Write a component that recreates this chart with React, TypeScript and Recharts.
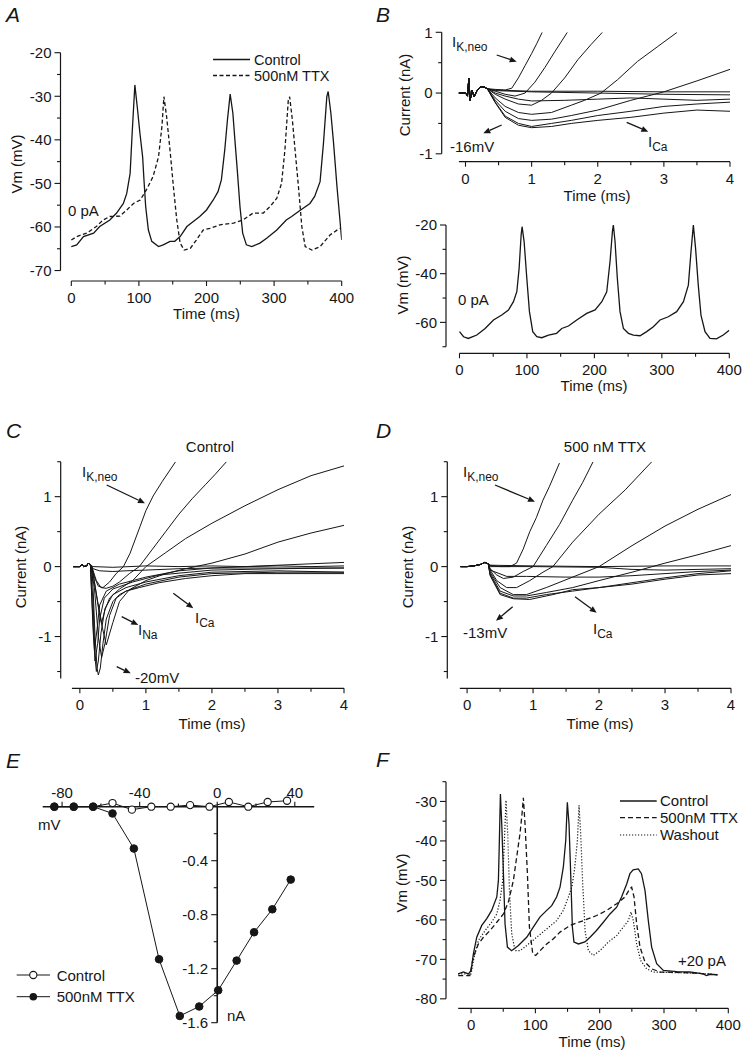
import React from 'react';
import { LineChart, Line, XAxis, YAxis, ReferenceLine } from 'recharts';

const INK = '#161616';
const FONT = '"Liberation Sans", Arial, Helvetica, sans-serif';

type P = [number, number];

// ---------- A: spontaneous firing, control vs TTX ----------
const A_CONTROL: P[] = [
  [0, -64.5], [8, -64.1], [18, -62.2], [33, -61.4], [42, -59.9], [57, -58.4], [67, -56.8], [77, -54.6],
  [82, -52.3], [87, -47.7], [90, -38.5], [94, -27.4], [98, -33.1], [101.5, -38.5], [105.5, -43.9],
  [107.5, -49.2], [110, -55.3], [114, -60.7], [119, -63.3], [129, -64.5], [136, -64.1], [146, -63.3],
  [153, -63.3], [161, -62.2], [171, -59.9], [180, -58.8], [190, -57.6], [200, -56.1], [210, -53.8],
  [217, -51.9], [222, -49.2], [227, -42.3], [231, -35.4], [235, -29.5], [239, -33.9], [242, -40],
  [245.5, -46.9], [249.5, -55.3], [253.5, -61.4], [259, -64.1], [267, -64.5], [279, -63.7], [289, -62.6],
  [304, -60.7], [318, -58.4], [326, -57.6], [333, -56.8], [343, -55.7], [353, -54.6], [360, -53],
  [368, -49.6], [373, -40.8], [378, -30.1], [380, -28.9], [384, -33.9], [388, -40.8], [393, -50.7], [400, -63],
];
const A_TTX: P[] = [
  [0, -63], [8, -62.2], [23, -61.4], [37, -59.9], [47, -58.4], [57, -57.6], [72, -57.5], [82, -56.1],
  [92, -54.6], [102, -53.8], [111, -51.5], [121, -48.4], [129, -43.9], [134, -37], [137, -30.1],
  [141, -34.7], [146, -42.3], [151, -50.7], [156, -58.4], [161, -63.7], [167, -65.3], [176, -64.9],
  [185, -63], [195, -60.7], [205, -60.3], [220, -59.5], [240, -59.1], [254, -58.4], [269, -56.8],
  [284, -56.8], [294, -55.3], [304, -53.4], [311, -50], [316, -42.3], [321, -30.9], [323, -30.1],
  [327, -35.4], [331, -42.3], [336, -50.7], [341, -59.9], [346, -64.5], [356, -65.3], [368, -64.5],
  [383, -61.8], [397, -60.3],
];
const A_X_TICKS = [0, 50, 100, 150, 200, 250, 300, 350, 400];
const A_X_MAJOR = [0, 100, 200, 300, 400];
const A_Y_TICKS = [-70, -65, -60, -55, -50, -45, -40, -35, -30, -25, -20];
const A_Y_MAJOR = [-70, -60, -50, -40, -30, -20];

// ---------- B: voltage-clamp ramp currents + spontaneous firing ----------
const B_ONSET: P[] = [
  [-0.1, 0], [0, 0], [0.03, -0.05], [0.05, 0.24], [0.07, -0.12], [0.1, 0.04], [0.13, -0.06],
  [0.17, 0.03], [0.22, 0.1], [0.28, 0.1], [0.33, 0.07],
];
const B_TRACES: P[][] = [
  [[0.45, 0.06], [0.6, 0.05], [0.7, 0.08], [0.8, 0.25], [0.9, 0.45], [1.0, 0.65], [1.08, 0.82], [1.16, 1.0]],
  [[0.45, 0.03], [0.6, -0.02], [0.75, -0.05], [0.9, 0.0], [1.05, 0.18], [1.2, 0.42], [1.35, 0.68], [1.54, 1.0]],
  [[0.45, -0.02], [0.6, -0.1], [0.8, -0.18], [1.0, -0.2], [1.15, -0.12], [1.3, 0.0], [1.5, 0.25], [1.7, 0.55], [1.9, 0.8], [2.07, 1.0]],
  [[0.45, -0.08], [0.6, -0.22], [0.8, -0.32], [1.0, -0.35], [1.3, -0.32], [1.6, -0.2], [1.8, -0.12], [2.05, 0.0], [2.3, 0.22], [2.6, 0.52], [2.9, 0.76], [3.2, 1.0]],
  [[0.45, -0.12], [0.6, -0.3], [0.8, -0.42], [1.0, -0.45], [1.3, -0.43], [1.6, -0.37], [2.0, -0.28], [2.5, -0.12], [3.0, 0.02], [3.5, 0.2], [4.0, 0.39]],
  [[0.45, -0.15], [0.6, -0.38], [0.8, -0.5], [1.0, -0.55], [1.3, -0.5], [1.6, -0.45], [2.0, -0.37], [2.5, -0.3], [3.0, -0.22], [3.5, -0.18], [4.0, -0.15]],
  [[0.45, -0.16], [0.6, -0.4], [0.8, -0.53], [1.0, -0.57], [1.3, -0.55], [1.6, -0.5], [2.0, -0.45], [2.5, -0.4], [3.0, -0.33], [3.5, -0.28], [4.0, -0.3]],
  [[0.45, 0.0], [0.6, -0.05], [0.8, -0.1], [1.0, -0.13], [1.5, -0.12], [2.0, -0.1], [2.5, -0.08], [3.0, -0.1], [3.5, -0.12], [4.0, -0.1]],
  [[0.45, 0.05], [1.0, 0.03], [2.0, 0.03], [3.0, 0.02], [4.0, 0.02]],
  [[0.45, 0.04], [1.0, 0.02], [2.0, 0.0], [3.0, -0.02], [4.0, -0.03]],
];
const B_FIRING: P[] = [
  [0, -63.8], [6, -65.9], [13, -66.6], [25.7, -65.2], [38, -62.5], [50.4, -59], [62.7, -57], [72.6, -54.9],
  [80, -51.5], [85, -47.4], [88.4, -37.8], [91.4, -24.1], [92.8, -20.7], [95.8, -26.8], [99.8, -41.9],
  [103.7, -55.6], [108.6, -63.8], [114.6, -65.9], [122, -66.3], [132, -65.2], [144, -64.5], [151.6, -62.5],
  [161.5, -61.5], [173.8, -59], [188.6, -56.3], [201, -54.9], [211, -51.5], [218.3, -47.4], [223.2, -35],
  [226.7, -22.7], [228.1, -20], [230.6, -26.8], [234, -41.9], [238, -55.6], [243, -62.5], [250.4, -64.5],
  [257.8, -65.2], [267.7, -65.5], [277.5, -63.8], [287.4, -61.8], [297.3, -59], [309.6, -57.7], [322, -55.6],
  [332, -51.5], [339.3, -44.7], [343.2, -31], [346.7, -20], [350, -29.6], [354, -44.7], [358, -57],
  [364, -63.8], [371.4, -66.6], [381, -66.8], [391, -65.2], [400, -63.2],
];
const MS4_TICKS = [0, 0.5, 1, 1.5, 2, 2.5, 3, 3.5, 4];
const MS4_MAJOR = [0, 1, 2, 3, 4];
const B_Y_TICKS = [-1, -0.5, 0, 0.5, 1];
const B_Y_MAJOR = [-1, 0, 1];
const B2_Y_TICKS = [-70, -60, -50, -40, -30, -20];
const B2_Y_MAJOR = [-60, -40, -20];

// ---------- C: control step currents ----------
const C_ONSET: P[] = [[-0.1, 0], [0, 0], [0.03, 0.03], [0.06, 0], [0.1, 0.01], [0.13, 0.05], [0.16, 0.02]];
const C_TRACES: P[][] = [
  [[0.2, 0.0], [0.5, -0.01], [1, 0.01], [1.5, 0.0], [2, 0.01], [2.5, 0.0], [3, 0.01], [3.5, 0.0], [4, 0.01]],
  [[0.2, -0.03], [0.3, -0.06], [0.5, -0.07], [0.7, -0.06], [1, -0.05], [1.5, -0.03], [2, -0.02], [3, -0.02], [4, -0.02]],
  [[0.18, 0], [0.22, -0.15], [0.28, -0.28], [0.35, -0.3], [0.45, -0.22], [0.55, -0.1], [0.66, 0.0], [0.76, 0.19], [0.91, 0.57], [1.0, 0.8], [1.11, 1.01], [1.25, 1.22], [1.45, 1.5]],
  [[0.18, 0], [0.25, -0.2], [0.32, -0.3], [0.4, -0.31], [0.5, -0.28], [0.6, -0.22], [0.75, -0.1], [0.9, 0.0], [1.1, 0.25], [1.3, 0.5], [1.5, 0.75], [1.7, 0.97], [1.9, 1.17], [2.05, 1.32], [2.22, 1.5]],
  [[0.2, -0.1], [0.27, -0.5], [0.33, -0.8], [0.38, -0.62], [0.45, -0.45], [0.6, -0.32], [0.8, -0.2], [1.0, 0.0], [1.3, 0.2], [1.6, 0.4], [2.0, 0.62], [2.5, 0.87], [3.0, 1.1], [3.5, 1.3], [4.0, 1.44]],
  [[0.2, -0.1], [0.3, -0.7], [0.4, -1.12], [0.5, -0.8], [0.6, -0.5], [0.75, -0.33], [1.0, -0.2], [1.3, -0.1], [1.6, -0.03], [2.0, 0.05], [2.5, 0.18], [3.0, 0.35], [3.5, 0.48], [4.0, 0.59]],
  [[0.18, 0], [0.2, -0.3], [0.23, -1.0], [0.26, -1.45], [0.28, -1.55], [0.31, -1.45], [0.35, -1.1], [0.4, -0.75], [0.5, -0.5], [0.6, -0.4], [0.7, -0.35], [0.9, -0.3], [1.2, -0.23], [1.6, -0.17], [2.0, -0.13], [2.5, -0.1], [3, -0.1], [3.5, -0.1], [4, -0.1]],
  [[0.2, -0.5], [0.23, -1.3], [0.25, -1.5], [0.28, -1.35], [0.32, -0.95], [0.38, -0.6], [0.5, -0.4], [0.7, -0.3], [1.0, -0.22], [1.5, -0.13], [2, -0.08], [3, -0.06], [4, -0.08]],
  [[0.19, -0.6], [0.23, -1.35], [0.27, -1.1], [0.3, -0.75], [0.37, -0.45], [0.5, -0.32], [0.8, -0.22], [1.2, -0.12], [2, -0.05], [3, -0.03], [4, -0.02]],
  [[0.2, -0.9], [0.22, -1.2], [0.26, -0.9], [0.3, -0.55], [0.4, -0.35], [0.6, -0.25], [1.0, -0.15], [1.5, -0.06], [2.0, -0.02], [2.5, 0.0], [3, 0.02], [3.5, 0.04], [4, 0.06]],
  [[0.22, -0.3], [0.28, -1.0], [0.33, -1.3], [0.38, -1.1], [0.45, -0.7], [0.55, -0.45], [0.7, -0.35], [1.0, -0.25], [1.5, -0.15], [2, -0.1], [3, -0.08], [4, -0.08]],
];
const CD_Y_TICKS = [-1.5, -1, -0.5, 0, 0.5, 1, 1.5];
const CD_Y_MAJOR = [-1, 0, 1];

// ---------- D: step currents in 500 nM TTX ----------
const D_ONSET: P[] = [[-0.1, 0], [0, 0], [0.1, 0.01], [0.2, 0.03], [0.27, 0.06], [0.32, 0.04]];
const D_TRACES: P[][] = [
  [[0.35, 0.02], [0.5, 0.0], [0.65, 0.0], [0.75, 0.05], [0.85, 0.25], [0.95, 0.5], [1.05, 0.7], [1.15, 0.95], [1.25, 1.15], [1.4, 1.48]],
  [[0.35, -0.03], [0.45, -0.12], [0.55, -0.17], [0.7, -0.15], [0.85, -0.07], [1.0, 0.0], [1.2, 0.3], [1.4, 0.6], [1.6, 0.95], [1.75, 1.2], [1.91, 1.5]],
  [[0.35, -0.05], [0.45, -0.2], [0.6, -0.3], [0.75, -0.3], [0.95, -0.2], [1.15, -0.08], [1.3, 0.0], [1.6, 0.35], [2.0, 0.75], [2.4, 1.1], [2.8, 1.5]],
  [[0.35, -0.08], [0.5, -0.3], [0.7, -0.4], [0.9, -0.4], [1.2, -0.3], [1.6, -0.15], [2.0, 0.0], [2.5, 0.3], [3.0, 0.58], [3.5, 0.82], [4.0, 1.03]],
  [[0.35, -0.1], [0.5, -0.35], [0.7, -0.42], [0.9, -0.42], [1.2, -0.37], [1.6, -0.3], [2.0, -0.2], [2.5, -0.08], [3.0, 0.05], [3.5, 0.17], [4.0, 0.3]],
  [[0.35, -0.12], [0.5, -0.38], [0.7, -0.45], [0.9, -0.45], [1.2, -0.4], [1.6, -0.35], [2.0, -0.3], [2.5, -0.23], [3.0, -0.16], [3.5, -0.1], [4.0, -0.06]],
  [[0.35, -0.13], [0.5, -0.4], [0.7, -0.46], [0.95, -0.47], [1.3, -0.4], [1.6, -0.33], [2.0, -0.3], [2.5, -0.25], [3.0, -0.18], [3.5, -0.12], [4.0, -0.1]],
  [[0.35, -0.05], [0.6, -0.14], [0.9, -0.14], [1.5, -0.15], [2.0, -0.15], [2.5, -0.13], [3.0, -0.1], [3.5, -0.07], [4.0, -0.05]],
  [[0.35, 0.02], [1, 0.01], [2, 0.0], [3, 0.01], [4, 0.01]],
  [[0.35, 0.0], [1, 0.0], [2, -0.01], [2.5, -0.04], [3, -0.05], [4, -0.03]],
];

// ---------- E: I-V relation ----------
const E_CONTROL: P[] = [
  [-84, 0], [-74, 0], [-64, 0], [-54, 0.027], [-44, -0.022], [-34, 0], [-24, 0], [-14, 0.012],
  [-4, 0], [6, 0.035], [16, 0], [26, 0.035], [36, 0.044],
];
const E_TTX: P[] = [
  [-84, 0], [-74, 0], [-64, 0], [-54, -0.05], [-43, -0.31], [-30, -1.13], [-19.3, -1.55], [-9.3, -1.48],
  [0.5, -1.36], [10, -1.14], [19, -0.93], [28.4, -0.76], [37.9, -0.54],
];
const E_X_TICKS = [-80, -60, -40, -20, 0, 20, 40];
const E_X_MAJOR = [-80, -40, 0, 40];
const E_Y_TICKS = [-0.2, -0.4, -0.6, -0.8, -1.0, -1.2, -1.4, -1.6];
const E_Y_MAJOR = [-0.4, -0.8, -1.2, -1.6];

// ---------- F: evoked firing, +20 pA ----------
const F_CONTROL: P[] = [
  [-20, -73.7], [-12, -73.2], [-4, -73.7], [0, -72.8], [3.6, -68.6], [8.8, -64.4], [16.6, -61.4], [24.4, -59.7],
  [32, -57.6], [40, -54.2], [42.5, -50], [44, -39.9], [45.6, -28.1], [47.7, -35.7], [50.3, -48.3], [52.8, -61],
  [56.5, -66.9], [63, -67.8], [73.6, -66.5], [86.5, -64.4], [97, -61.8], [107, -59.3], [117.6, -57.6],
  [125.4, -56.4], [133, -54.2], [138.3, -51.7], [143.5, -46.6], [147.2, -39.9], [149.7, -30.2], [152.3, -35.7],
  [154.9, -48.3], [157.5, -61.8], [160, -65.6], [167, -66.1], [177, -65.6], [185, -64.4], [195, -62.7],
  [205.7, -60.6], [216, -58.5], [226.4, -56.8], [234, -54.2], [242, -50.9], [247, -48.3], [252, -47.3],
  [260, -47.1], [265, -48.3], [270.5, -52.6], [275.6, -60.2], [280.8, -66.9], [288.6, -71.1], [299, -72.8],
  [320, -73.1], [340, -73.2], [361, -73.7], [366, -74.1], [372, -73.8], [383, -73.9],
];
const F_TTX: P[] = [
  [-20, -74.1], [-2, -74.1], [3.6, -69.4], [11.4, -66.1], [19.2, -64.4], [29.5, -62.7], [40, -60.6],
  [50.3, -58.5], [58, -55.5], [65.8, -50], [71, -44], [76.2, -38], [79.3, -33], [81.3, -29.1], [83.9, -35.7],
  [87.6, -48.3], [90.7, -61.8], [95.9, -68.6], [100.5, -69], [107.3, -67.8], [117.6, -66.1], [128, -64.8],
  [138.3, -63.1], [154, -61.4], [174.6, -60.2], [195.3, -58.9], [211, -57.6], [226.4, -55.9], [239.4, -54.2],
  [247, -52.1], [249.7, -51.7], [253.4, -54.2], [257.5, -61], [262.7, -66.9], [270.5, -70.7], [280.8, -72.4],
  [293.8, -73.2], [320, -73.3], [350, -73.5], [383, -73.9],
];
const F_WASH: P[] = [
  [-20, -73.7], [0, -73.7], [4.7, -69.4], [11.4, -65.2], [21.8, -62.7], [32, -60.6], [40, -58.5], [45, -55.1],
  [49.2, -50], [51.8, -39.9], [54.4, -29.7], [57, -38.2], [59.6, -52.5], [63.2, -63.5], [68.4, -67.8],
  [76.2, -67.8], [86.5, -66.5], [102, -64.4], [117.6, -62.3], [133, -60.2], [143.5, -57.6], [151.3, -54.2],
  [157, -51.5], [161, -47], [165.3, -40], [167.9, -31], [170.5, -38.2], [173.6, -50.8], [177.2, -62.7],
  [182.4, -67.8], [190, -69], [200.5, -67.8], [213.5, -65.6], [226.4, -64], [236.8, -61.8], [244.6, -60.2],
  [248.7, -58], [252.3, -60.2], [257.5, -66.1], [263.7, -70.3], [273, -72.4], [283.4, -73.2], [300, -73.3],
  [330, -73.4], [360, -73.6], [383, -73.9],
];
const F_X_TICKS = [0, 50, 100, 150, 200, 250, 300, 350, 400];
const F_X_MAJOR = [0, 100, 200, 300, 400];
const F_Y_TICKS = [-80, -75, -70, -65, -60, -55, -50, -45, -40, -35, -30, -25];
const F_Y_MAJOR = [-80, -70, -60, -50, -40, -30];

const toPts = (d: P[]) => d.map(([t, v]) => ({ t, v }));

// ticks drawn by hand so minor ticks carry no label
const leftTick = (majors: number[]) => (p: any) => {
  const v = p.payload.value;
  const major = majors.indexOf(v) >= 0;
  return (
    <g>
      <line x1={p.x - (major ? 6 : 3.5)} x2={p.x} y1={p.y} y2={p.y} stroke={INK} strokeWidth={1.1} />
      {major && (
        <text x={p.x - 9} y={p.y + 5.3} textAnchor="end" fontSize={15} fill={INK}>{String(v)}</text>
      )}
    </g>
  );
};
const bottomTick = (majors: number[]) => (p: any) => {
  const v = p.payload.value;
  const major = majors.indexOf(v) >= 0;
  return (
    <g>
      <line x1={p.x} x2={p.x} y1={p.y} y2={p.y + (major ? 5 : 3.5)} stroke={INK} strokeWidth={1.1} />
      {major && (
        <text x={p.x} y={p.y + 22} textAnchor="middle" fontSize={15} fill={INK}>{String(v)}</text>
      )}
    </g>
  );
};

type Series = { data: P[]; dash?: string; width?: number };
type PanelProps = {
  box: [number, number, number, number];
  plot: [number, number, number, number];
  xDomain: [number, number];
  yDomain: [number, number];
  xTicks: number[];
  xMajor: number[];
  yTicks: number[];
  yMajor: number[];
  xLine: [number, number];
  yLine: [number, number];
  series: Series[];
};

const YW = 50;
const XH = 40;

function TracePanel(p: PanelProps) {
  const [left, top, w, h] = p.box;
  const [x0, y0, x1, y1] = p.plot;
  const margin = { left: x0 - left - YW, top: y0 - top, right: left + w - x1, bottom: top + h - y1 - XH };
  return (
    <div style={{ position: 'absolute', left, top }}>
      <LineChart width={w} height={h} margin={margin}>
        <XAxis
          type="number" dataKey="t" domain={p.xDomain} allowDataOverflow ticks={p.xTicks} interval={0}
          axisLine={false} tickLine={false} tickSize={0} tickMargin={0} height={XH} tick={bottomTick(p.xMajor)}
        />
        <YAxis
          type="number" domain={p.yDomain} allowDataOverflow ticks={p.yTicks} interval={0}
          axisLine={false} tickLine={false} tickSize={0} tickMargin={0} width={YW} tick={leftTick(p.yMajor)}
        />
        <ReferenceLine
          segment={[{ x: p.xLine[0], y: p.yDomain[0] }, { x: p.xLine[1], y: p.yDomain[0] }]}
          stroke={INK} strokeWidth={1.2} ifOverflow="visible"
        />
        <ReferenceLine
          segment={[{ x: p.xDomain[0], y: p.yLine[0] }, { x: p.xDomain[0], y: p.yLine[1] }]}
          stroke={INK} strokeWidth={1.2} ifOverflow="visible"
        />
        {p.series.map((s, i) => (
          <Line
            key={i} data={toPts(s.data)} dataKey="v" type="linear" stroke={INK}
            strokeWidth={s.width ?? 1} strokeDasharray={s.dash} dot={false} activeDot={false}
            isAnimationActive={false}
          />
        ))}
      </LineChart>
    </div>
  );
}

function IVPanel() {
  const [left, top, w, h] = [0, 770, 370, 270];
  const [x0, y0, x1, y1] = [42.7, 793.2, 314.2, 1022.7];
  const margin = { left: x0 - left, top: y0 - top, right: left + w - x1, bottom: top + h - y1 };
  return (
    <div style={{ position: 'absolute', left, top }}>
      <LineChart width={w} height={h} margin={margin}>
        <XAxis hide type="number" dataKey="t" domain={[-90, 50]} allowDataOverflow />
        <YAxis hide type="number" domain={[-1.6, 0.1]} allowDataOverflow />
        <ReferenceLine y={0} stroke={INK} strokeWidth={1.6} ifOverflow="visible" />
        <ReferenceLine segment={[{ x: 0, y: 0 }, { x: 0, y: -1.6 }]} stroke={INK} strokeWidth={1.6} ifOverflow="visible" />
        {E_X_TICKS.map((v) => {
          const major = E_X_MAJOR.indexOf(v) >= 0;
          return (
            <ReferenceLine
              key={'x' + v}
              segment={[{ x: v, y: 0 }, { x: v, y: major ? 0.037 : 0.024 }]}
              stroke={INK} strokeWidth={1.1} ifOverflow="visible"
              label={major ? { value: String(v), position: 'top', offset: 4, fontSize: 15, fill: INK } : undefined}
            />
          );
        })}
        {E_Y_TICKS.map((v) => {
          const major = E_Y_MAJOR.indexOf(v) >= 0;
          return (
            <ReferenceLine
              key={'y' + v}
              segment={[{ x: major ? -3.1 : -1.8, y: v }, { x: 0, y: v }]}
              stroke={INK} strokeWidth={1.1} ifOverflow="visible"
              label={major ? { value: v.toFixed(1), position: 'left', offset: 3, fontSize: 15, fill: INK } : undefined}
            />
          );
        })}
        <Line
          data={toPts(E_CONTROL)} dataKey="v" type="linear" stroke={INK} strokeWidth={1}
          dot={{ r: 3.6, fill: '#fff', stroke: INK, strokeWidth: 1.1 }} activeDot={false} isAnimationActive={false}
        />
        <Line
          data={toPts(E_TTX)} dataKey="v" type="linear" stroke={INK} strokeWidth={1}
          dot={{ r: 3.8, fill: INK, stroke: INK, strokeWidth: 1 }} activeDot={false} isAnimationActive={false}
        />
      </LineChart>
    </div>
  );
}

function Arrow({ x1, y1, x2, y2 }: { x1: number; y1: number; x2: number; y2: number }) {
  const a = Math.atan2(y2 - y1, x2 - x1);
  const L = 7;
  const W = 3;
  const bx = x2 - L * Math.cos(a);
  const by = y2 - L * Math.sin(a);
  const px = -Math.sin(a) * W;
  const py = Math.cos(a) * W;
  return (
    <g>
      <line x1={x1} y1={y1} x2={bx} y2={by} stroke={INK} strokeWidth={1.3} />
      <polygon points={`${x2},${y2} ${bx + px},${by + py} ${bx - px},${by - py}`} fill={INK} />
    </g>
  );
}

const Sub = ({ x, y, main, sub }: { x: number; y: number; main: string; sub: string }) => (
  <text x={x} y={y} fontSize={15} fill={INK}>
    {main}
    <tspan fontSize={12} dy={4}>{sub}</tspan>
  </text>
);

const VLabel = ({ cx, cy, text }: { cx: number; cy: number; text: string }) => (
  <text x={cx} y={cy} dy="0.36em" textAnchor="middle" fontSize={15} fill={INK} transform={`rotate(-90 ${cx} ${cy})`}>
    {text}
  </text>
);

const T = ({ x, y, children, anchor = 'start', size = 15 }: { x: number; y: number; children: any; anchor?: string; size?: number }) => (
  <text x={x} y={y} fontSize={size} fill={INK} textAnchor={anchor as any}>{children}</text>
);

const Letter = ({ x, y, c }: { x: number; y: number; c: string }) => (
  <text x={x} y={y} fontSize={21} fontStyle="italic" fill={INK}>{c}</text>
);

function Overlay() {
  return (
    <svg width={750} height={1050} style={{ position: 'absolute', left: 0, top: 0, pointerEvents: 'none' }}>
      {/* A */}
      <Letter x={6} y={22} c="A" />
      <VLabel cx={17} cy={164} text="Vm (mV)" />
      <T x={206.5} y={319} anchor="middle">Time (ms)</T>
      <line x1={213} y1={59.5} x2={250} y2={59.5} stroke={INK} strokeWidth={1.3} />
      <T x={254} y={64.5} size={14.5}>Control</T>
      <line x1={213} y1={75.5} x2={250} y2={75.5} stroke={INK} strokeWidth={1.3} strokeDasharray="4 2.5" />
      <T x={254} y={80.5} size={14.5}>500nM TTX</T>
      <T x={68} y={216}>0 pA</T>

      {/* B */}
      <Letter x={376} y={22} c="B" />
      <VLabel cx={405} cy={95} text="Current (nA)" />
      <Sub x={452} y={47} main="I" sub="K,neo" />
      <Arrow x1={496.7} y1={55} x2={516.7} y2={61.7} />
      <T x={450} y={152}>-16mV</T>
      <Arrow x1={501.7} y1={125} x2={483.3} y2={133.3} />
      <Sub x={648} y={147} main="I" sub="Ca" />
      <Arrow x1={626.7} y1={122.3} x2={648.3} y2={131.7} />
      <T x={597} y={201} anchor="middle">Time (ms)</T>
      <VLabel cx={403} cy={285} text="Vm (mV)" />
      <T x={458} y={305}>0 pA</T>
      <T x={594} y={391} anchor="middle">Time (ms)</T>

      {/* C */}
      <Letter x={6} y={438} c="C" />
      <T x={210} y={452} anchor="middle">Control</T>
      <VLabel cx={21} cy={567} text="Current (nA)" />
      <Sub x={82} y={477} main="I" sub="K,neo" />
      <Arrow x1={106.7} y1={485} x2={145} y2={503.3} />
      <Sub x={195} y={623} main="I" sub="Ca" />
      <Arrow x1={173.3} y1={593.3} x2={193.3} y2={608.3} />
      <Sub x={138} y={635} main="I" sub="Na" />
      <Arrow x1={121.7} y1={616.7} x2={138.3} y2={625} />
      <T x={135} y={683}>-20mV</T>
      <Arrow x1={116.7} y1={666.7} x2={130.7} y2={673.3} />
      <T x={212} y={728.5} anchor="middle">Time (ms)</T>

      {/* D */}
      <Letter x={376} y={438} c="D" />
      <T x={605} y={452} anchor="middle">500 nM TTX</T>
      <VLabel cx={408} cy={567} text="Current (nA)" />
      <Sub x={463} y={477} main="I" sub="K,neo" />
      <Arrow x1={495} y1={485} x2={535} y2={501.7} />
      <T x={463} y={638}>-13mV</T>
      <Arrow x1={512.7} y1={606.7} x2={496} y2={620.7} />
      <Sub x={593} y={634} main="I" sub="Ca" />
      <Arrow x1={575} y1={596.7} x2={596.7} y2={612.7} />
      <T x={600} y={728.5} anchor="middle">Time (ms)</T>

      {/* E */}
      <Letter x={6} y={768} c="E" />
      <T x={38} y={830}>mV</T>
      <T x={227} y={1021}>nA</T>
      <line x1={16.7} y1={975} x2={50} y2={975} stroke={INK} strokeWidth={1} />
      <circle cx={33.3} cy={975} r={3.6} fill="#fff" stroke={INK} strokeWidth={1.1} />
      <T x={56.7} y={980.5}>Control</T>
      <line x1={16.7} y1={996.7} x2={50} y2={996.7} stroke={INK} strokeWidth={1} />
      <circle cx={33.3} cy={996.7} r={3.8} fill={INK} />
      <T x={56.7} y={1002}>500nM TTX</T>

      {/* F */}
      <Letter x={376} y={767} c="F" />
      <VLabel cx={402} cy={883} text="Vm (mV)" />
      <line x1={620} y1={801} x2={656.7} y2={801} stroke={INK} strokeWidth={1.3} />
      <T x={660} y={806}>Control</T>
      <line x1={620} y1={817.7} x2={656.7} y2={817.7} stroke={INK} strokeWidth={1.3} strokeDasharray="5 3" />
      <T x={660} y={823}>500nM TTX</T>
      <line x1={620} y1={835} x2={656.7} y2={835} stroke={INK} strokeWidth={1.2} strokeDasharray="1.2 1.8" />
      <T x={660} y={840}>Washout</T>
      <T x={678} y={966}>+20 pA</T>
      <T x={592} y={1047} anchor="middle">Time (ms)</T>
    </svg>
  );
}

export default function App() {
  return (
    <div style={{ position: 'absolute', left: 0, top: 0, width: 750, height: 1050, background: '#fff', fontFamily: FONT, overflow: 'hidden' }}>
      <TracePanel
        box={[0, 30, 370, 310]} plot={[60.5, 52.7, 341.7, 281]}
        xDomain={[-16, 400]} yDomain={[-72.4, -20]}
        xTicks={A_X_TICKS} xMajor={A_X_MAJOR} yTicks={A_Y_TICKS} yMajor={A_Y_MAJOR}
        xLine={[0, 400]} yLine={[-70, -20]}
        series={[{ data: A_CONTROL, width: 1.3 }, { data: A_TTX, width: 1.3, dash: '4 2.5' }]}
      />
      <TracePanel
        box={[375, 20, 375, 195]} plot={[441.7, 32.3, 730, 161.7]}
        xDomain={[-0.36, 4]} yDomain={[-1.13, 1]}
        xTicks={MS4_TICKS} xMajor={MS4_MAJOR} yTicks={B_Y_TICKS} yMajor={B_Y_MAJOR}
        xLine={[-0.1, 4]} yLine={[-1, 1]}
        series={B_TRACES.map((d) => ({ data: [...B_ONSET, ...d], width: 1 }))}
      />
      <TracePanel
        box={[375, 215, 375, 190]} plot={[446, 225, 729.3, 353.3]}
        xDomain={[-20, 400]} yDomain={[-72.7, -20]}
        xTicks={A_X_TICKS} xMajor={A_X_MAJOR} yTicks={B2_Y_TICKS} yMajor={B2_Y_MAJOR}
        xLine={[0, 400]} yLine={[-70, -20]}
        series={[{ data: B_FIRING, width: 1.3 }]}
      />
      <TracePanel
        box={[0, 450, 370, 290]} plot={[60.7, 461.7, 344, 688.3]}
        xDomain={[-0.29, 4]} yDomain={[-1.74, 1.5]}
        xTicks={MS4_TICKS} xMajor={MS4_MAJOR} yTicks={CD_Y_TICKS} yMajor={CD_Y_MAJOR}
        xLine={[-0.12, 4]} yLine={[-1.6, 1.5]}
        series={C_TRACES.map((d) => ({ data: [...C_ONSET, ...d], width: 1 }))}
      />
      <TracePanel
        box={[375, 450, 375, 290]} plot={[447.3, 461.7, 731, 688.3]}
        xDomain={[-0.3, 4]} yDomain={[-1.74, 1.5]}
        xTicks={MS4_TICKS} xMajor={MS4_MAJOR} yTicks={CD_Y_TICKS} yMajor={CD_Y_MAJOR}
        xLine={[-0.11, 4]} yLine={[-1.6, 1.5]}
        series={D_TRACES.map((d) => ({ data: [...D_ONSET, ...d], width: 1 }))}
      />
      <IVPanel />
      <TracePanel
        box={[375, 770, 375, 280]} plot={[446, 781.7, 728.3, 1008.3]}
        xDomain={[-39, 400]} yDomain={[-82.4, -25]}
        xTicks={F_X_TICKS} xMajor={F_X_MAJOR} yTicks={F_Y_TICKS} yMajor={F_Y_MAJOR}
        xLine={[-20, 400]} yLine={[-80, -25]}
        series={[
          { data: F_CONTROL, width: 1.3 },
          { data: F_TTX, width: 1.3, dash: '5 3' },
          { data: F_WASH, width: 1.2, dash: '1.2 1.8' },
        ]}
      />
      <Overlay />
    </div>
  );
}
